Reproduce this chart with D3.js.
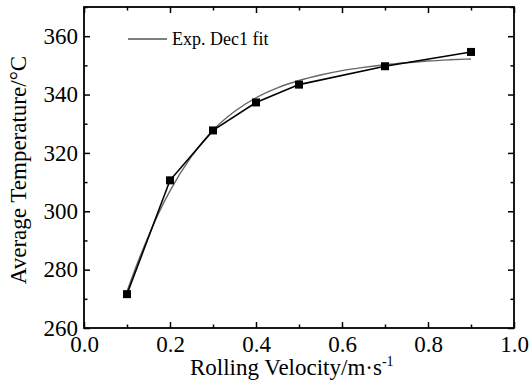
<!DOCTYPE html>
<html><head><meta charset="utf-8">
<script src="https://cdn.jsdelivr.net/npm/d3@7/dist/d3.min.js"></script>
<style>body{margin:0;background:#fff}svg{display:block}</style>
</head><body><svg id="c" width="529" height="390"></svg>
<script>
const velocity = [0.1, 0.2, 0.3, 0.4, 0.5, 0.7, 0.9];
const temperature = [271.6, 310.6, 327.7, 337.3, 343.4, 349.7, 354.6];
const fitX = [0.1, 0.125, 0.15, 0.175, 0.2, 0.25, 0.3, 0.35, 0.4, 0.45, 0.5, 0.55, 0.6, 0.65, 0.7, 0.75, 0.8, 0.85, 0.9];
const fitY = [272.5, 282.5, 291.5, 299.8, 307.0, 318.8, 327.8, 334.2, 338.9, 342.3, 344.8, 346.7, 348.2, 349.3, 350.2, 350.9, 351.5, 351.9, 352.2];
const xTicks = [0, 0.2, 0.4, 0.6, 0.8, 1.0];
const yTicks = [260, 280, 300, 320, 340, 360];
const legendLabel = "Exp. Dec1 fit";

const FONT = "Liberation Serif";
const svg = d3.select("#c");
const L = 84, R = 514, T = 7, B = 328;
const x = d3.scaleLinear().domain([0, 1]).range([L, R]);
const y = d3.scaleLinear().domain([260, 370]).range([B, T]);
const xMinor = [0.1, 0.3, 0.5, 0.7, 0.9];
const yMinor = [270, 290, 310, 330, 350, 370];

function styleTicks(g) {
  g.select(".domain").remove();
  g.selectAll("line").attr("stroke", "#000").attr("stroke-width", 1.5);
}
function tickAxis(gen, tr, vals, size) {
  svg.append("g").attr("transform", tr)
    .call(gen.tickValues(vals).tickSize(size).tickFormat(""))
    .call(styleTicks);
}
// bottom with labels
const gb = svg.append("g").attr("transform", `translate(0,${B})`)
  .call(d3.axisBottom(x).tickValues(xTicks).tickSize(-6).tickFormat(d3.format(".1f")))
  .call(styleTicks);
gb.selectAll("text").attr("y", 8).attr("dy", "0.71em").attr("fill", "#000")
  .style("font-family", FONT).style("font-size", "23px");
tickAxis(d3.axisBottom(x), `translate(0,${B})`, xMinor, -3.5);
// top
tickAxis(d3.axisTop(x), `translate(0,${T})`, xTicks, -6);
tickAxis(d3.axisTop(x), `translate(0,${T})`, xMinor, -3.5);
// left with labels
const gl = svg.append("g").attr("transform", `translate(${L},0)`)
  .call(d3.axisLeft(y).tickValues(yTicks).tickSize(-6).tickFormat(d3.format("d")))
  .call(styleTicks);
gl.selectAll("text").attr("x", -6).attr("dy", "0.31em").attr("fill", "#000")
  .style("font-family", FONT).style("font-size", "23px");
tickAxis(d3.axisLeft(y), `translate(${L},0)`, yMinor, -3.5);
// right
tickAxis(d3.axisRight(y), `translate(${R},0)`, yTicks, -6);
tickAxis(d3.axisRight(y), `translate(${R},0)`, yMinor, -3.5);

// frame
svg.append("rect").attr("x", L).attr("y", T).attr("width", R - L).attr("height", B - T)
  .attr("fill", "none").attr("stroke", "#000").attr("stroke-width", 1.8);

// fit line
svg.append("path").datum(fitX.map((v, i) => [v, fitY[i]]))
  .attr("d", d3.line().curve(d3.curveMonotoneX).x(d => x(d[0])).y(d => y(d[1])))
  .attr("fill", "none").attr("stroke", "#666").attr("stroke-width", 1.4);
// data line
svg.append("path").datum(velocity.map((v, i) => [v, temperature[i]]))
  .attr("d", d3.line().x(d => x(d[0])).y(d => y(d[1])))
  .attr("fill", "none").attr("stroke", "#000").attr("stroke-width", 1.6);
// markers
const ms = 8;
svg.selectAll("rect.pt").data(velocity).join("rect").attr("class", "pt")
  .attr("x", d => x(d) - ms / 2).attr("y", (d, i) => y(temperature[i]) - ms / 2)
  .attr("width", ms).attr("height", ms).attr("fill", "#000");

// legend
svg.append("line").attr("x1", 128).attr("x2", 167).attr("y1", 39).attr("y2", 39)
  .attr("stroke", "#555").attr("stroke-width", 1.4);
svg.append("text").attr("x", 172).attr("y", 45).style("font-family", FONT)
  .style("font-size", "18px").attr("fill", "#000").text(legendLabel);

// axis titles
const xt = svg.append("text").attr("x", 190).attr("y", 375).style("font-family", FONT)
  .style("font-size", "23px").attr("fill", "#000");
xt.append("tspan").text("Rolling Velocity/m·s");
xt.append("tspan").attr("dy", -9).style("font-size", "14px").text("-1");
svg.append("text").attr("transform", "translate(26,170) rotate(-90)").attr("text-anchor", "middle")
  .style("font-family", FONT).style("font-size", "23px").attr("fill", "#000").text("Average Temperature/°C");
</script></body></html>
